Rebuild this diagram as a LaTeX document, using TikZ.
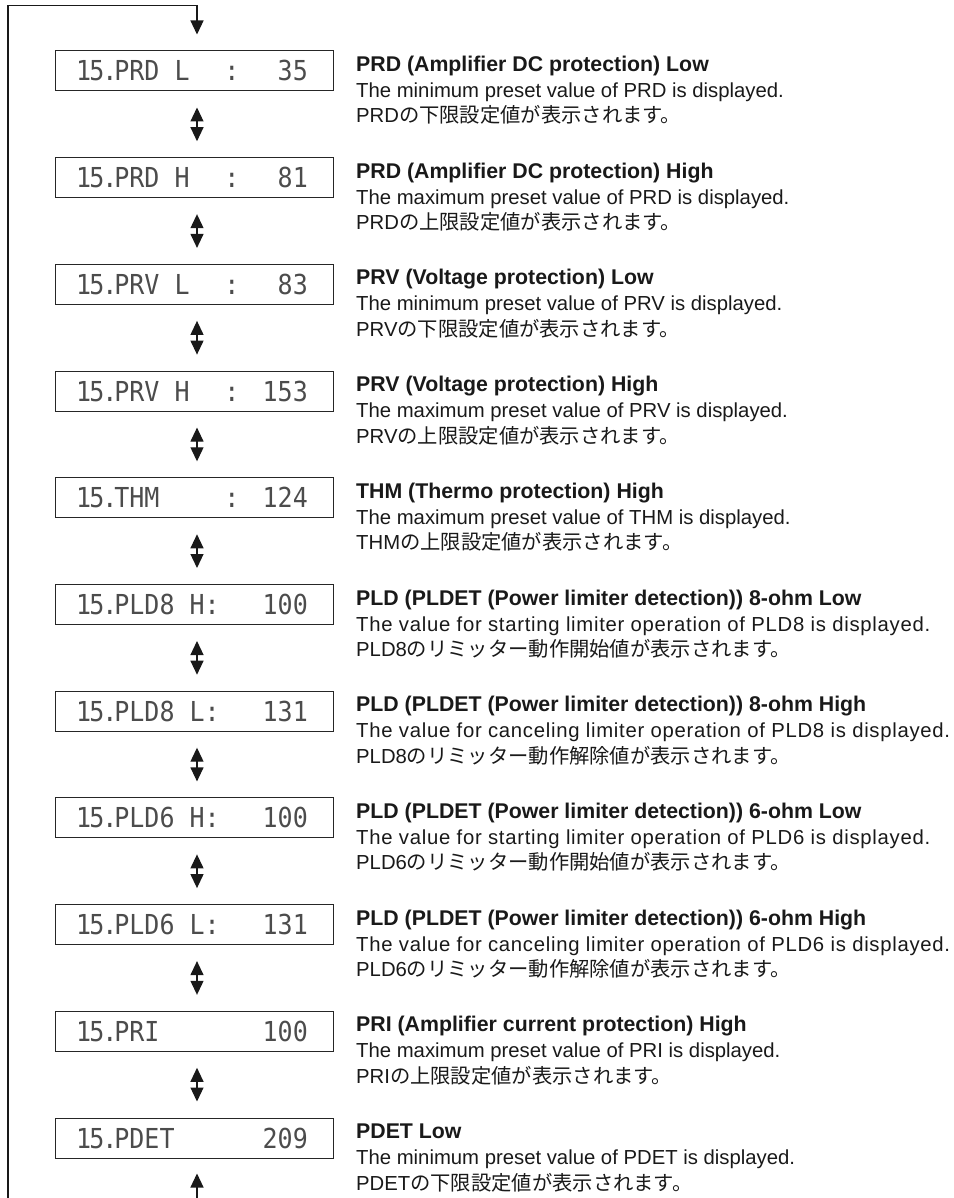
\documentclass[tikz,border=0pt]{standalone}
\usepackage{fontspec}
\setmainfont{Liberation Sans}
\newfontfamily\jp{Noto Sans CJK JP}
\newfontfamily\lcdfont{DejaVu Sans Mono}
\usetikzlibrary{arrows.meta}
\newcommand\lcdtxt[1]{\scalebox{1}[1.1]{#1}}
\newcommand\pre{1\kern-2pt5\kern-2pt.\kern-3pt}
\newcommand\wide[1]{{\addfontfeature{LetterSpace=3.5}#1}}
\tikzset{
  lcdbox/.style={draw=black!85, line width=1pt, minimum width=278pt, minimum height=40pt, inner sep=0pt},
  lcd/.style={inner sep=0pt, text=black!70, font=\lcdfont\fontsize{25}{25}\selectfont},
  ttl/.style={inner sep=0pt, anchor=base west, font=\bfseries\fontsize{21.3}{26}\selectfont, text=black!90},
  txt/.style={inner sep=0pt, anchor=base west, font=\fontsize{20.3}{26}\selectfont, text=black!90},
  tip/.style={-{Triangle[width=13pt,length=14pt]}},
  conn/.style={line width=1.2pt, black!90},
  dbl/.style={conn, {Triangle[width=13pt,length=14pt]}-{Triangle[width=13pt,length=14pt]}, shorten <=16pt, shorten >=16pt}
}
\newcommand\stage[8]{%
  \node[lcdbox] (b#1) at (194,#2) {};
  \node[lcd, anchor=base west] (l#1) at (76,#2+10) {\lcdtxt{\pre #3}};
  \node[lcd, anchor=base] (c#1) at (232,#2+10) {\lcdtxt{#4}};
  \node[lcd, anchor=base east] (v#1) at (308,#2+10) {\lcdtxt{#5}};
  \node[ttl] (t#1) at (356,#2+0.5) {#6};
  \node[txt] (d#1) at (356,#2+26.5) {#7};
  \node[txt] (j#1) at (356,#2+52) {#8};
}
\begin{document}
\begin{tikzpicture}[x=1pt, y=-1pt]
\useasboundingbox (0,0) rectangle (953,1198);
\stage{1}{71}{PRD L}{:}{35}{PRD (Amplifier DC protection) Low}{The minimum preset value of PRD is displayed.}{PRD{\jp の下限設定値が表示されます。}}
\stage{2}{177.7}{PRD H}{:}{81}{PRD (Amplifier DC protection) High}{The maximum preset value of PRD is displayed.}{PRD{\jp の上限設定値が表示されます。}}
\stage{3}{284.4}{PRV L}{:}{83}{PRV (Voltage protection) Low}{The minimum preset value of PRV is displayed.}{PRV{\jp の下限設定値が表示されます。}}
\stage{4}{391.1}{PRV H}{:}{153}{PRV (Voltage protection) High}{The maximum preset value of PRV is displayed.}{PRV{\jp の上限設定値が表示されます。}}
\stage{5}{497.8}{THM}{:}{124}{THM (Thermo protection) High}{The maximum preset value of THM is displayed.}{THM{\jp の上限設定値が表示されます。}}
\stage{6}{604.5}{PLD8 H:}{}{100}{PLD (PLDET (Power limiter detection)) 8-ohm Low}{\wide{The value for starting limiter operation of PLD8 is displayed.}}{PLD8{\jp のリミッター動作開始値が表示されます。}}
\stage{7}{711.2}{PLD8 L:}{}{131}{PLD (PLDET (Power limiter detection)) 8-ohm High}{\wide{The value for canceling limiter operation of PLD8 is displayed.}}{PLD8{\jp のリミッター動作解除値が表示されます。}}
\stage{8}{817.9}{PLD6 H:}{}{100}{PLD (PLDET (Power limiter detection)) 6-ohm Low}{\wide{The value for starting limiter operation of PLD6 is displayed.}}{PLD6{\jp のリミッター動作開始値が表示されます。}}
\stage{9}{924.6}{PLD6 L:}{}{131}{PLD (PLDET (Power limiter detection)) 6-ohm High}{\wide{The value for canceling limiter operation of PLD6 is displayed.}}{PLD6{\jp のリミッター動作解除値が表示されます。}}
\stage{10}{1031.3}{PRI}{}{100}{PRI (Amplifier current protection) High}{The maximum preset value of PRI is displayed.}{PRI{\jp の上限設定値が表示されます。}}
\stage{11}{1138}{PDET}{}{209}{PDET Low}{The minimum preset value of PDET is displayed.}{PDET{\jp の下限設定値が表示されます。}}
\foreach \a/\b in {1/2,2/3,3/4,4/5,5/6,6/7,7/8,8/9,9/10,10/11}
  \draw[dbl] ([xshift=3pt]b\a.south) -- ([xshift=3pt]b\b.north);
\coordinate (lb) at (8,1198);
\coordinate (lt) at (8,5.5);
\coordinate (bb) at (197,1198);
\draw[conn, tip, shorten >=16pt] (lb) -- (lt) -| ([xshift=3pt]b1.north);
\draw[conn, tip, shorten >=15pt] (bb) -- ([xshift=3pt]b11.south);
\end{tikzpicture}
\end{document}
